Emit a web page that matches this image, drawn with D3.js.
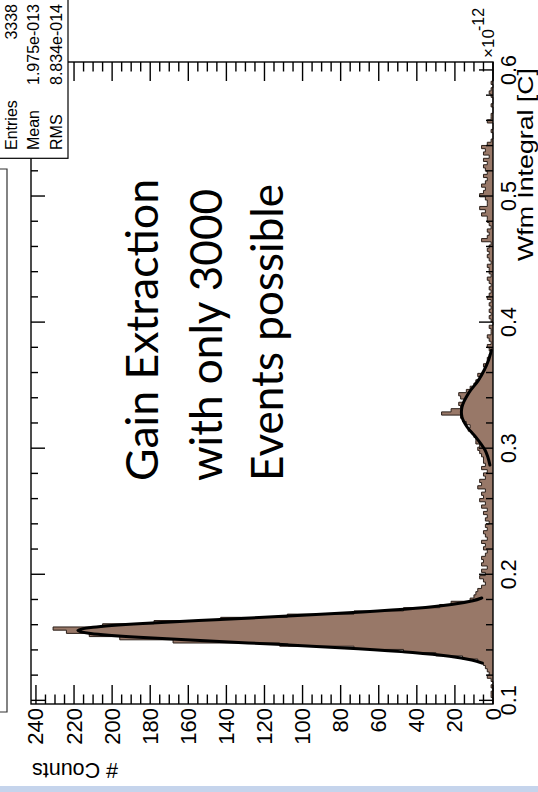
<!DOCTYPE html>
<html>
<head>
<meta charset="utf-8">
<script src="https://cdn.jsdelivr.net/npm/d3@7"></script>
<style>
html,body{margin:0;padding:0;background:#fff;}
svg{display:block;}
text{font-family:"Liberation Sans",Arial,Helvetica,sans-serif;fill:#000;}
text.note{font-family:Lato,"Open Sans",sans-serif;}
</style>
</head>
<body>
<div id="chart"></div>
<script>
// ---------------- data ----------------
const histMin = 0.0971;      // x-axis range of histogram (units of 1e-12 C)
const histMax = 0.6063;
const binCounts = [
  0,0,1,1,0,1,0,1,3,2,
  3,4,5,8,16,30,47,73,112,168,
  196,212,224,231,205,178,143,108,73,47,
  28,22,12,10,9,8,6,4,5,7,
  4,6,3,6,5,6,4,3,5,4,
  6,3,4,5,3,4,2,4,3,5,
  3,6,4,7,5,6,4,8,6,7,
  4,5,3,6,4,5,5,6,7,8,
  7,9,9,10,11,13,12,14,16,17,
  27,22,17,18,15,17,18,14,12,10,
  9,7,8,5,4,5,3,3,2,1,
  2,3,1,2,3,1,1,2,0,1,
  2,1,2,1,2,1,3,2,1,2,
  1,2,3,1,2,2,3,1,2,3,
  2,3,2,1,6,3,2,3,1,2,
  3,3,6,4,7,3,3,4,7,5,
  4,6,4,3,5,3,4,5,3,5,
  2,5,4,6,3,1,0,0,1,0,
  0,3,1,1,0,0,1,0,0,1,
  2,1,0,1,0,0,0,0,0,0
];
// fit curve 1 (first peak): [x, counts]
const fit1 = [
  [0.1295,5.7],[0.132,11.2],[0.135,22.8],[0.138,42.2],[0.141,70.8],[0.144,107.7],
  [0.147,148.7],[0.150,186.1],[0.153,211.3],[0.1554,218],[0.158,210.1],[0.161,183.9],
  [0.164,146.0],[0.167,105.1],[0.170,68.6],[0.173,40.6],[0.176,21.8],[0.179,10.6],[0.1812,5.9]
];
// fit curve 2 (second peak): [x, counts]
const fit2 = [
  [0.2866,1.6],[0.2985,4.2],[0.3080,8.6],[0.3168,13.6],[0.3247,16.3],[0.3287,16.6],
  [0.3326,16.3],[0.3437,12.8],[0.3540,7.6],[0.3620,4.6],[0.3700,2.3],[0.3778,0.8]
];
const xTicks = [0.1,0.2,0.3,0.4,0.5,0.6];
const xTickLabels = ["0.1","0.2","0.3","0.4","0.5","0.6"];
const yTicks = [0,20,40,60,80,100,120,140,160,180,200,220,240];
const yTickLabels = ["0","20","40","60","80","100","120","140","160","180","200","220","240"];
const statsLabels = ["Entries","Mean","RMS"];
const statsValues = ["3338","1.975e-013","8.834e-014"];
const noteLines = ["Gain Extraction","with only 3000","Events possible"];
const xTitle = "Wfm Integral [C]";
const yTitle = "# Counts";

// ---------------- layout ----------------
const W = 538, H = 792;
const frame = {left:31, right:493, top:62, bottom:704};
const svg = d3.select("#chart").append("svg").attr("width",W).attr("height",H);
svg.append("rect").attr("width",W).attr("height",H).attr("fill","#fff");

// chart is rotated: x-values run bottom->top, counts run right->left
const xS = d3.scaleLinear().domain([histMin,histMax]).range([frame.bottom,frame.top]); // screen y
const yS = d3.scaleLinear().domain([0,242.6]).range([frame.right,frame.left]);          // screen x

const nBins = binCounts.length;
const bw = (histMax-histMin)/nBins;
const pts = [];
binCounts.forEach((v,i)=>{
  pts.push({x:histMin+i*bw, v});
  pts.push({x:histMin+(i+1)*bw, v});
});

// fill
const area = d3.area().y(d=>xS(d.x)).x0(yS(0)).x1(d=>yS(d.v));
svg.append("path").attr("d",area(pts)).attr("fill","#987868").attr("stroke","none");
// outline
const outlinePts = [{x:histMin,v:0},...pts,{x:histMax,v:0}];
const line = d3.line().x(d=>yS(d.v)).y(d=>xS(d.x));
svg.append("path").attr("d",line(outlinePts)).attr("fill","none")
  .attr("stroke","#2b1f19").attr("stroke-width",1);

// fits
const fitLine = d3.line().x(d=>yS(d[1])).y(d=>xS(d[0])).curve(d3.curveMonotoneY);
[fit1,fit2].forEach(f=>{
  svg.append("path").attr("d",fitLine(f)).attr("fill","none")
    .attr("stroke","#000").attr("stroke-width",3).attr("stroke-linecap","round");
});

// frame
const g = svg.append("g").attr("stroke","#000").attr("stroke-width",1.4).attr("fill","none");
g.append("rect").attr("x",frame.left).attr("y",frame.top)
  .attr("width",frame.right-frame.left).attr("height",frame.bottom-frame.top);

// x ticks (right axis & left mirror)
const xMinor = d3.range(0.1,0.6001,0.02);
xMinor.forEach(t=>{
  const major = Math.abs(t*10-Math.round(t*10))<1e-6;
  const len = major?14:7;
  const y = xS(t);
  g.append("line").attr("x1",frame.right).attr("x2",frame.right-len).attr("y1",y).attr("y2",y);
  g.append("line").attr("x1",frame.left).attr("x2",frame.left+len).attr("y1",y).attr("y2",y);
});
// count ticks (bottom axis & top mirror)
d3.range(0,241,5).forEach(t=>{
  const major = t%20===0;
  const len = major?19:9.5;
  const x = yS(t);
  g.append("line").attr("x1",x).attr("x2",x).attr("y1",frame.bottom).attr("y2",frame.bottom-len);
  g.append("line").attr("x1",x).attr("x2",x).attr("y1",frame.top).attr("y2",frame.top+len);
});

// x tick labels
xTicks.forEach((t,i)=>{
  svg.append("text").attr("transform",`translate(515.5,${xS(t)}) rotate(-90)`)
    .attr("text-anchor","middle").attr("font-size",21.5).text(xTickLabels[i]);
});
// count tick labels
yTicks.forEach((t,i)=>{
  svg.append("text").attr("transform",`translate(${yS(t)+7.5},708) rotate(-90)`)
    .attr("text-anchor","end").attr("font-size",22).text(yTickLabels[i]);
});
// exponent
svg.append("text").attr("transform","translate(494,58) rotate(-90)").attr("font-size",17).text("\u00d710");
svg.append("text").attr("transform","translate(483.5,31) rotate(-90)").attr("font-size",16).text("-12");
// axis titles
svg.append("text").attr("transform","translate(532.5,68) rotate(-90)").attr("text-anchor","end")
  .attr("font-size",22).attr("textLength",193).attr("lengthAdjust","spacingAndGlyphs").text(xTitle);
svg.append("text").attr("transform","translate(32,763) rotate(180)").attr("text-anchor","end")
  .attr("font-size",21.5).text(yTitle);

// stats box
svg.append("rect").attr("x",-2).attr("y",-2).attr("width",70).attr("height",160.3)
  .attr("fill","#fff").attr("stroke","#000").attr("stroke-width",1.2);
const statX = [17,39,62];
statsLabels.forEach((s,i)=>{
  svg.append("text").attr("transform",`translate(${statX[i]},150) rotate(-90)`)
    .attr("font-size",16).text(s);
  svg.append("text").attr("transform",`translate(${statX[i]},4) rotate(-90)`)
    .attr("text-anchor","end").attr("font-size",16).text(statsValues[i]);
});

// partial box at left edge
svg.append("path").attr("d","M0,169H7V712H0").attr("fill","none").attr("stroke","#333").attr("stroke-width",1.2);

// annotation
const noteX = [158,222,283];
const noteLen = [302,292,297];
noteLines.forEach((s,i)=>{
  svg.append("text").attr("class","note").attr("transform",`translate(${noteX[i]},481) rotate(-90)`)
    .attr("font-size",44)
    .attr("textLength",noteLen[i]).attr("lengthAdjust","spacingAndGlyphs").text(s);
});

// bottom blue band
svg.append("rect").attr("x",0).attr("y",786).attr("width",W).attr("height",6).attr("fill","#c5d4ec");
</script>
</body>
</html>
